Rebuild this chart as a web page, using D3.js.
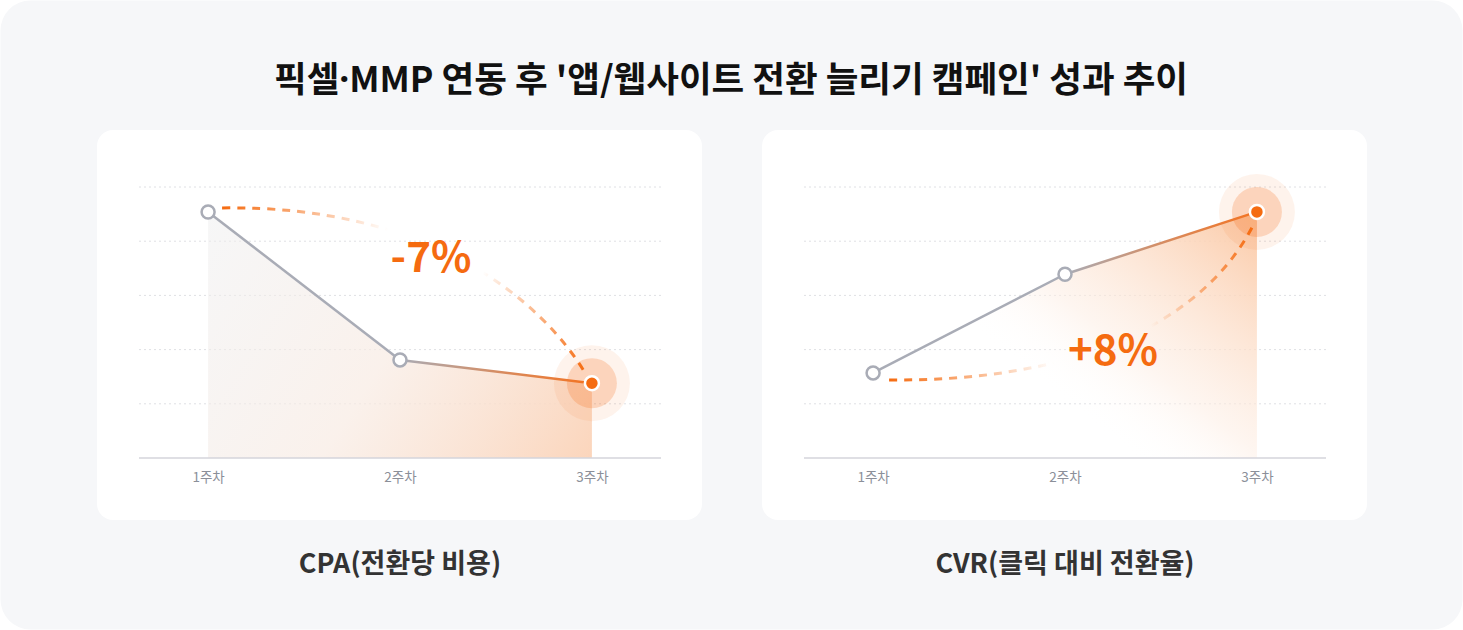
<!DOCTYPE html>
<html><head><meta charset="utf-8">
<script src="https://cdn.jsdelivr.net/npm/d3@7"></script>
<style>
html,body{margin:0;padding:0;background:#fff;}
svg{display:block;}
text{font-family:"Noto Sans CJK KR","Noto Sans",sans-serif;}
</style></head>
<body>
<svg id="c" width="1463" height="630"></svg>
<script>
const weeks = ["1주차", "2주차", "3주차"];
const cpaValues = [4.54, 1.81, 1.38];
const cvrValues = [1.57, 3.39, 4.54];
const gridTicks = [1, 2, 3, 4, 5];
const titleText = "픽셀·MMP 연동 후 '앱/웹사이트 전환 늘리기 캠페인' 성과 추이";
const chartNames = ["CPA(전환당 비용)", "CVR(클릭 대비 전환율)"];
const changeLabels = ["-7%", "+8%"];

const ORANGE = "#f56b10";
const GRAY = "#a9acb6";

const svg = d3.select("#c");
const defs = svg.append("defs");

svg.append("rect").attr("x",0.5).attr("y",0.5).attr("width",1462).attr("height",629)
  .attr("rx",30).attr("fill","#f6f7f9");

const title = svg.append("text").attr("x",731).attr("y",92).attr("text-anchor","middle")
  .attr("font-size",35.5).attr("font-weight",700).attr("fill","#111");
const tparts = titleText.split("·");
tparts.forEach((t,i)=>{
  if (i>0) title.append("tspan").attr("font-family",'"Noto Sans",sans-serif').text("·");
  title.append("tspan").text(t);
});

const panels = [
  {x0:97, values:cpaValues, name:chartNames[0], label:changeLabels[0], id:"a",
   curveKind:"down", labelPos:[431,272]},
  {x0:762, values:cvrValues, name:chartNames[1], label:changeLabels[1], id:"b",
   curveKind:"up", labelPos:[1113,365]}
];

panels.forEach(p => {
  const g = svg.append("g");
  g.append("rect").attr("x",p.x0).attr("y",130).attr("width",605).attr("height",390)
    .attr("rx",16).attr("fill","#fff");

  const x = d3.scalePoint().domain(weeks).range([p.x0+42, p.x0+564]).padding(0.36);
  const y = d3.scaleLinear().domain([0,5]).range([458,187]);

  g.selectAll(".grid").data(gridTicks).join("line")
    .attr("x1",p.x0+42).attr("x2",p.x0+564)
    .attr("y1",d=>y(d)).attr("y2",d=>y(d))
    .attr("stroke","#dfe0e4").attr("stroke-width",1).attr("stroke-dasharray","2,3");

  const pts = weeks.map((w,i)=>[x(w), y(p.values[i])]);

  const ag = defs.append("linearGradient").attr("id","area"+p.id)
    .attr("gradientUnits","userSpaceOnUse");
  if (p.id==="a") {
    ag.attr("x1",pts[0][0]).attr("y1",pts[0][1]).attr("x2",pts[2][0]).attr("y2",y(0));
    ag.append("stop").attr("offset",0).attr("stop-color","#eeeeef").attr("stop-opacity",0.5);
    ag.append("stop").attr("offset",0.5).attr("stop-color","#f8ebe3").attr("stop-opacity",0.7);
    ag.append("stop").attr("offset",1).attr("stop-color","#fbd3b8").attr("stop-opacity",0.95);
  } else {
    const tx = pts[2][0], ty = pts[2][1];
    ag.attr("x1",tx-0.62*270).attr("y1",ty+0.78*270).attr("x2",tx).attr("y2",ty);
    ag.append("stop").attr("offset",0).attr("stop-color","#ffffff").attr("stop-opacity",0);
    ag.append("stop").attr("offset",0.3).attr("stop-color","#fdeee4").attr("stop-opacity",0.55);
    ag.append("stop").attr("offset",1).attr("stop-color","#fbc8a4").attr("stop-opacity",1);
  }
  const area = d3.area().x(d=>d[0]).y0(y(0)).y1(d=>d[1]);
  g.append("path").attr("d",area(pts)).attr("fill",`url(#area${p.id})`);

  const axis = d3.axisBottom(x).tickSize(0).tickPadding(14);
  const ax = g.append("g").attr("transform",`translate(0,${y(0)})`).call(axis);
  ax.select(".domain").attr("d",`M${p.x0+42},0H${p.x0+564}`).attr("stroke","#d4d5db").attr("stroke-width",1.5);
  ax.selectAll("text").attr("font-size",13.5).attr("fill","#8b8f99")
    .attr("font-family",'"Noto Sans CJK KR",sans-serif');

  g.append("circle").attr("cx",pts[2][0]).attr("cy",pts[2][1]).attr("r",38)
    .attr("fill",ORANGE).attr("fill-opacity",0.08);
  g.append("circle").attr("cx",pts[2][0]).attr("cy",pts[2][1]).attr("r",25)
    .attr("fill",ORANGE).attr("fill-opacity",0.22);

  let c;
  if (p.curveKind==="down") {
    const s=[pts[0][0]+14, pts[0][1]-4], e=[pts[2][0]-6, pts[2][1]-9];
    c = {s, c1:[s[0]+207, s[1]-3], c2:[e[0]-45, e[1]-75], e};
  } else {
    const s=[pts[0][0]+16, pts[0][1]+7], e=[pts[2][0]-3, pts[2][1]+12];
    c = {s, c1:[s[0]+171, s[1]+2], c2:[e[0]-55, e[1]+108], e};
  }
  const dg = defs.append("linearGradient").attr("id","dash"+p.id)
    .attr("gradientUnits","userSpaceOnUse")
    .attr("x1",c.s[0]).attr("y1",c.s[1]).attr("x2",c.e[0]).attr("y2",c.e[1]);
  [[0,1],[0.38,0.05],[0.4,0],[0.66,0],[0.7,0.15],[1,1]].forEach(([o,op])=>
    dg.append("stop").attr("offset",o).attr("stop-color",ORANGE).attr("stop-opacity",op));
  const dpath = d3.path();
  dpath.moveTo(c.s[0],c.s[1]);
  dpath.bezierCurveTo(c.c1[0],c.c1[1],c.c2[0],c.c2[1],c.e[0],c.e[1]);
  g.append("path").attr("d",dpath.toString()).attr("fill","none")
    .attr("stroke",`url(#dash${p.id})`).attr("stroke-width",3)
    .attr("stroke-dasharray","8,7");

  const line = d3.line();
  g.append("path").attr("d",line(pts.slice(0,2))).attr("fill","none")
    .attr("stroke",GRAY).attr("stroke-width",2.5);
  const lg = defs.append("linearGradient").attr("id","line"+p.id)
    .attr("gradientUnits","userSpaceOnUse")
    .attr("x1",pts[1][0]).attr("y1",pts[1][1]).attr("x2",pts[2][0]).attr("y2",pts[2][1]);
  lg.append("stop").attr("offset",0).attr("stop-color",GRAY);
  lg.append("stop").attr("offset",0.55).attr("stop-color","#d98a5c");
  lg.append("stop").attr("offset",1).attr("stop-color","#f4721f");
  g.append("path").attr("d",line(pts.slice(1))).attr("fill","none")
    .attr("stroke",`url(#line${p.id})`).attr("stroke-width",2.5);

  g.selectAll(".open").data(pts.slice(0,2)).join("circle")
    .attr("cx",d=>d[0]).attr("cy",d=>d[1]).attr("r",6.5)
    .attr("fill","#fff").attr("stroke",GRAY).attr("stroke-width",2.5);
  g.append("circle").attr("cx",pts[2][0]).attr("cy",pts[2][1]).attr("r",7)
    .attr("fill",ORANGE).attr("stroke","#fff").attr("stroke-width",2.5);

  g.append("text").attr("x",p.labelPos[0]).attr("y",p.labelPos[1]).attr("text-anchor","middle")
    .attr("font-size",42).attr("font-weight",700).attr("fill",ORANGE)
    .attr("font-family",'"Noto Sans","Noto Sans CJK KR",sans-serif')
    .text(p.label);

  svg.append("text").attr("x",p.x0+303).attr("y",573).attr("text-anchor","middle")
    .attr("font-size",27).attr("font-weight",700).attr("fill","#333")
    .text(p.name);
});
</script>
</body></html>
